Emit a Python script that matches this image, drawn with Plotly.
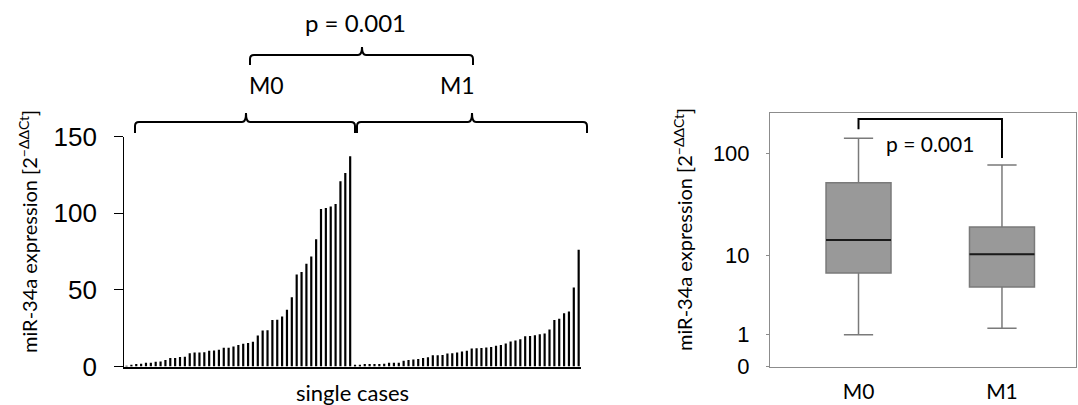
import numpy as np
import plotly.graph_objects as go

W, H = 1078, 405

# ---------------- data ----------------
groups = ["M0", "M1"]
m0_values = [0.5, 0.6, 1.7, 1.8, 2.4, 2.5, 3.1, 3.3, 4.3, 5.5, 5.6, 6.2, 6.3, 8.6,
             9.1, 9.2, 9.3, 10.3, 10.4, 11.0, 12.2, 12.3, 13.0, 14.0, 14.8, 15.4,
             16.1, 20.2, 23.5, 23.6, 30.4, 30.5, 32.6, 37.1, 45.2, 60.0, 61.7, 67.0,
             71.8, 83.0, 102.8, 103.5, 104.4, 106.0, 120.9, 126.3, 137.2]
m1_values = [1.1, 1.2, 1.6, 1.7, 1.7, 1.7, 1.8, 2.4, 2.4, 2.5, 3.7, 4.3, 4.5, 4.9,
             5.5, 6.1, 7.3, 7.4, 7.5, 8.5, 8.6, 9.1, 9.8, 10.2, 11.8, 11.9, 12.0,
             12.4, 12.8, 13.5, 14.1, 15.0, 16.3, 17.0, 17.8, 19.8, 19.9, 20.4, 21.1,
             21.5, 24.1, 30.4, 31.1, 34.8, 35.9, 51.5, 76.2]
left_yticks = [0, 50, 100, 150]
right_yticks = [0, 1, 10, 100]

# box-plot statistics
box_min = [1.0, 1.3]
box_q1 = [6.6, 4.6]
box_median = [14.5, 10.4]
box_q3 = [52.4, 19.5]
box_max = [138.6, 77.3]

p_label = "p = 0.001"
y_title = "miR-34a expression [2<sup>\u2212\u0394\u0394Ct</sup>]"
x_title_left = "single cases"


def tf(v):
    return np.log10(np.asarray(v, dtype=float) + 1.0)


def px(x):
    return x / W


def py(y):
    return 1 - y / H


TEXT_FONT = "Lato"
NUM_FONT = "Liberation Sans"

fig = go.Figure()

# ---------------- left: single cases bar chart ----------------
all_values = m0_values + m1_values
fig.add_trace(go.Bar(
    x=np.arange(len(all_values)), y=all_values,
    marker=dict(color="black", line=dict(width=0)),
    xaxis="x", yaxis="y", showlegend=False,
))

# ---------------- right: box plot ----------------
box_pos = np.arange(len(groups))
box_w = 0.453
fig.add_trace(go.Box(
    x=box_pos, q1=tf(box_q1), median=tf(box_median), q3=tf(box_q3),
    lowerfence=tf(box_min), upperfence=tf(box_max),
    width=box_w, whiskerwidth=0.45,
    fillcolor="#999999", line=dict(color="#7a7a7a", width=1.5),
    xaxis="x2", yaxis="y2", showlegend=False, boxpoints=False,
))

shapes = []
# darker median lines
for p, m in zip(box_pos, tf(box_median)):
    shapes.append(dict(type="line", xref="x2", yref="y2",
                       x0=p - box_w / 2, x1=p + box_w / 2, y0=m, y1=m,
                       line=dict(color="#1a1a1a", width=2)))

# significance bracket on box plot
top_b = 2.325
shapes.append(dict(type="path", xref="x2", yref="y2",
                   path=f"M 0,2.23 L 0,{top_b} L 1,{top_b} L 1,1.96",
                   line=dict(color="black", width=2)))


def brace(x0, x1, xm, yh, d, t, r=4):
    def P(x, y):
        return f"{px(x):.5f},{py(y):.5f}"
    return (f"M {P(x0, yh + d)} L {P(x0, yh + r)} Q {P(x0, yh)} {P(x0 + r, yh)} "
            f"L {P(xm - r, yh)} Q {P(xm, yh)} {P(xm, yh - t)} "
            f"Q {P(xm, yh)} {P(xm + r, yh)} L {P(x1 - r, yh)} "
            f"Q {P(x1, yh)} {P(x1, yh + r)} L {P(x1, yh + d)}")


for (a, b, m) in [(135, 355, 246), (357, 587, 472)]:
    shapes.append(dict(type="path", xref="paper", yref="paper",
                       path=brace(a, b, m, 122, 11, 9),
                       line=dict(color="black", width=2)))
shapes.append(dict(type="path", xref="paper", yref="paper",
                   path=brace(250, 473, 362, 55, 10, 8),
                   line=dict(color="black", width=2)))

annotations = [
    dict(text=p_label, x=px(355), y=py(22), xref="paper", yref="paper",
         showarrow=False, font=dict(family=TEXT_FONT, size=24, color="black"),
         xanchor="center", yanchor="middle"),
    dict(text=groups[0], x=px(247), y=py(85), xref="paper", yref="paper",
         showarrow=False, font=dict(family=TEXT_FONT, size=23, color="black"),
         xanchor="left", yanchor="middle"),
    dict(text=groups[1], x=px(477), y=py(85), xref="paper", yref="paper",
         showarrow=False, font=dict(family=TEXT_FONT, size=23, color="black"),
         xanchor="right", yanchor="middle"),
    dict(text=x_title_left, x=px(352), y=py(392), xref="paper", yref="paper",
         showarrow=False, font=dict(family=TEXT_FONT, size=22, color="black"),
         xanchor="center", yanchor="middle"),
    dict(text=y_title, x=px(28), y=py(232), xref="paper", yref="paper",
         showarrow=False, textangle=-90,
         font=dict(family=TEXT_FONT, size=20, color="black"),
         xanchor="center", yanchor="middle"),
    dict(text=y_title, x=px(683), y=py(230), xref="paper", yref="paper",
         showarrow=False, textangle=-90,
         font=dict(family=TEXT_FONT, size=20, color="black"),
         xanchor="center", yanchor="middle"),
    dict(text=p_label, x=0.5, y=2.098, xref="x2", yref="y2",
         showarrow=False, font=dict(family=TEXT_FONT, size=21, color="black"),
         xanchor="center", yanchor="middle"),
]

n = len(all_values)
fig.update_layout(
    template="none",
    width=W, height=H,
    margin=dict(l=0, r=0, t=0, b=0, pad=0, autoexpand=False),
    paper_bgcolor="white", plot_bgcolor="white",
    bargap=0.55,
    showlegend=False,
    xaxis=dict(domain=[px(124.1), px(581.1)], range=[-0.5, n - 0.5],
               showline=True, linecolor="black", linewidth=1.5,
               showticklabels=False, ticks="", showgrid=False, zeroline=False,
               automargin=False, anchor="y"),
    yaxis=dict(domain=[py(366.5), py(136.7)], range=[0, 150],
               tickvals=left_yticks, ticks="outside", ticklen=9, tickwidth=1,
               tickcolor="black", showline=True, linecolor="black", linewidth=1,
               showgrid=False, zeroline=False, ticklabelstandoff=12,
               tickfont=dict(family=NUM_FONT, size=26, color="black"),
               automargin=False, anchor="x"),
    xaxis2=dict(domain=[px(770), px(1076)], range=[-0.617, 1.516],
                tickvals=box_pos, ticktext=groups, ticks="",
                showline=True, mirror=True, linecolor="#8c8c8c", linewidth=1,
                showgrid=False, zeroline=False, ticklabelstandoff=6,
                tickfont=dict(family=TEXT_FONT, size=21, color="black"),
                automargin=False, anchor="y2"),
    yaxis2=dict(domain=[py(366.7), py(112.7)], range=[0, 2.385],
                tickvals=tf(right_yticks), ticktext=[str(v) for v in right_yticks],
                ticks="outside", ticklen=3, tickcolor="#8c8c8c",
                showline=True, mirror=True, linecolor="#8c8c8c", linewidth=1,
                showgrid=False, zeroline=False, ticklabelstandoff=12,
                tickfont=dict(family=NUM_FONT, size=22, color="black"),
                automargin=False, anchor="x2"),
    shapes=shapes,
    annotations=annotations,
)

fig.write_html("out.html",
               config={"displayModeBar": False},
               post_script="document.body.style.margin='0';"
                           "document.body.style.overflow='hidden';")
